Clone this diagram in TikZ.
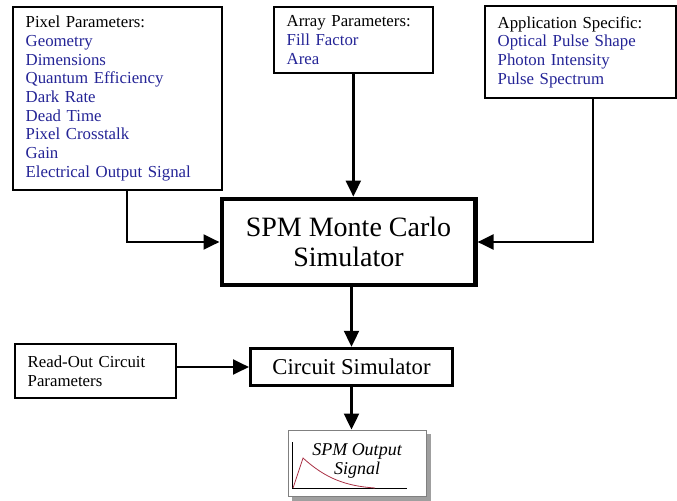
\documentclass[tikz,border=0pt]{standalone}
\usepackage{fontspec}
\setmainfont{Liberation Serif}
\usepackage{xcolor}
\usetikzlibrary{arrows.meta}

\definecolor{parblue}{RGB}{36,36,150}
\definecolor{pulsered}{RGB}{170,50,70}

\tikzset{
  parbox/.style={draw, line width=1.5pt, anchor=north west, align=left,
    inner xsep=9.5pt, inner ysep=2pt, font=\fontsize{12.6}{14}\selectfont},
  flow/.style={line width=2.2pt, -{Triangle[length=12pt,width=11pt]}},
}

\begin{document}
\begin{tikzpicture}[x=0.75pt,y=0.75pt,yscale=-1,xscale=1]
    \useasboundingbox (0,0) rectangle (677,500);

    % Parameter boxes
    \node [parbox, minimum height=137pt, text width=138pt] (pixel) at (12,6)
      {Pixel Parameters:\\ \color{parblue}Geometry\\ \color{parblue}Dimensions\\
       \color{parblue}Quantum Efficiency\\ \color{parblue}Dark Rate\\
       \color{parblue}Dead Time\\ \color{parblue}Pixel Crosstalk\\
       \color{parblue}Gain\\ \color{parblue}Electrical Output Signal};
    \node [parbox, minimum height=49.5pt, text width=100pt] (array) at (273,6)
      {Array Parameters:\\ \color{parblue}Fill Factor\\ \color{parblue}Area};
    \node [parbox, minimum height=69pt, text width=124pt] (app) at (484,5)
      {Application Specific:\\ \color{parblue}Optical Pulse Shape\\
       \color{parblue}Photon Intensity\\ \color{parblue}Pulse Spectrum};
    \node [parbox, minimum height=40.5pt, text width=102pt] (readout) at (14,343)
      {Read-Out Circuit\\ Parameters};

    % Simulators
    \node [draw, line width=3.5pt, minimum width=190pt, minimum height=64.5pt,
      align=center, font=\fontsize{21}{23}\selectfont] (mc) at (348.5,242)
      {SPM Monte Carlo\\ Simulator};
    \node [draw, line width=2.2pt, minimum width=151.5pt, minimum height=28pt,
      font=\fontsize{17}{19}\selectfont] (circ) at (351.5,367) {Circuit Simulator};

    % Output box with shadow
    \fill [gray!75] (292,434) rectangle (431,501);
    \node [draw=gray, fill=white, line width=0.8pt, minimum width=104pt,
      minimum height=50pt] (out) at (357.5,463.5) {};
    \draw [line width=0.6pt] (292,442) -- (292,488) -- (407,488);
    \draw [pulsered, line width=0.6pt] (293,488) -- (303,458)
      .. controls (325,478) and (345,486) .. (375,488);
    \node [align=center, font=\fontsize{13.5}{14.5}\itshape\selectfont] (outtxt)
      at (357,461) {SPM Output\\ Signal};

    % Connectors
    \draw [flow] (pixel.south -| 127,0) |- (mc.west);
    \draw [flow] (array.south) -- (array.south |- mc.north);
    \draw [flow] (app.south -| 593,0) |- (mc.east);
    \draw [flow] (mc.south -| circ.north) -- (circ.north);
    \draw [flow] (readout.east |- circ.west) -- (circ.west);
    \draw [flow] (circ.south) -- (circ.south |- out.north);
\end{tikzpicture}
\end{document}
